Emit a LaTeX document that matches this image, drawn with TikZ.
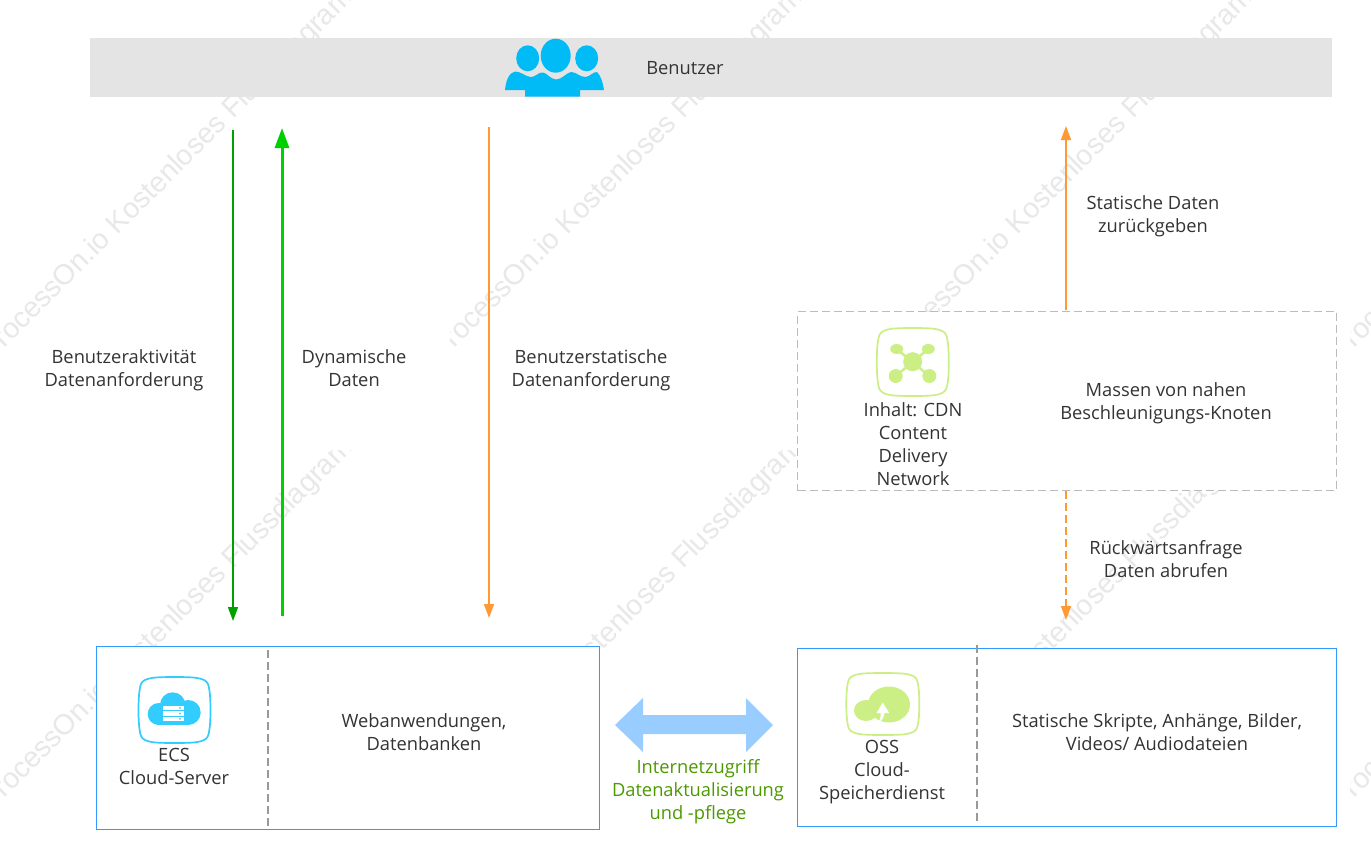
\documentclass[tikz,border=0pt]{standalone}
\usepackage{fontspec}
\setmainfont{Open Sans}
\newfontfamily\wmfont{Liberation Sans}
\usetikzlibrary{arrows.meta}
\definecolor{txt}{HTML}{333333}
\definecolor{barfill}{HTML}{E4E4E4}
\definecolor{userblue}{HTML}{00BBF5}
\definecolor{boxblue}{HTML}{3399FF}
\definecolor{dashgray}{HTML}{BBBBBB}
\definecolor{divgray}{HTML}{999999}
\definecolor{thingreen}{HTML}{00A000}
\definecolor{thickgreen}{HTML}{00D000}
\definecolor{arroworange}{HTML}{FF9933}
\definecolor{lime}{HTML}{CBEF84}
\definecolor{cyanicon}{HTML}{33CCFF}
\definecolor{bigarrow}{HTML}{99CCFF}
\definecolor{labelgreen}{HTML}{4C9900}
\definecolor{wmgray}{HTML}{E8E8E8}
\newcommand{\squirclepath}{(0,-1) .. controls (0.35,-1) and (0.6,-0.99) .. (0.72,-0.95) .. controls (0.88,-0.9) and (0.92,-0.84) .. (0.95,-0.72) .. controls (0.985,-0.55) and (1,-0.3) .. (1,0) .. controls (1,0.3) and (0.985,0.55) .. (0.95,0.72) .. controls (0.92,0.84) and (0.88,0.9) .. (0.72,0.95) .. controls (0.6,0.99) and (0.35,1) .. (0,1) .. controls (-0.35,1) and (-0.6,0.99) .. (-0.72,0.95) .. controls (-0.88,0.9) and (-0.92,0.84) .. (-0.95,0.72) .. controls (-0.985,0.55) and (-1,0.3) .. (-1,0) .. controls (-1,-0.3) and (-0.985,-0.55) .. (-0.95,-0.72) .. controls (-0.92,-0.84) and (-0.88,-0.9) .. (-0.72,-0.95) .. controls (-0.6,-0.99) and (-0.35,-1) .. (0,-1) -- cycle}
\tikzset{
  x=1pt,y=-1pt,
  lbl/.style={align=center,text=txt,font=\fontsize{18.3}{23}\selectfont,inner sep=0pt,outer sep=0pt},
  greenlbl/.style={lbl,text=labelgreen},
  wmark/.style={rotate=45,anchor=base west,text=wmgray,inner sep=0pt,font=\wmfont\fontsize{28.5}{28.5}\selectfont},
  panel/.style={draw=boxblue,fill=white,line width=1pt,anchor=north west,inner sep=0pt,outer sep=0pt},
  dashpanel/.style={draw=dashgray,fill=white,line width=1pt,dash pattern=on 8pt off 4pt,anchor=north west,inner sep=0pt,outer sep=0pt},
  topbar/.style={fill=barfill,anchor=north west,inner sep=0pt,outer sep=0pt},
  divider/.style={draw=divgray,line width=1.3pt,dash pattern=on 8pt off 4pt},
  thinhead/.style={-{Triangle[length=14pt,width=10pt]}},
  thinlink/.style={thinhead,line width=1.5pt},
  thicklink/.style={-{Triangle[length=20pt,width=14pt]},line width=3pt,draw=thickgreen},
}
\begin{document}
\begin{tikzpicture}
\useasboundingbox (0,0) rectangle (1371,865);
\fill[white] (0,0) rectangle (1371,865);
% watermark tiles
\foreach \tx/\ty [count=\i] in {0/0,450/0,900/0,1350/0,0/450,450/450,900/450,1350/450}{
  \begin{scope}
    \clip (\tx,\ty) rectangle ++(350,350);
    \node[wmark] (wm\i) at (\tx-9,\ty+362) {ProcessOn.io Kostenloses Flussdiagramm};
  \end{scope}
}
% top bar
\node[topbar,minimum width=1242pt,minimum height=59pt] (bar) at (90,38) {};
\fill[userblue] (527.7,58.3) ellipse [x radius=11.5,y radius=13];
\fill[userblue] (555.7,55.7) ellipse [x radius=15,y radius=17];
\fill[userblue] (586.7,58.3) ellipse [x radius=11.5,y radius=13];
\fill[userblue] (505,90) .. controls (506,80) and (509,73) .. (515,71.5) .. controls (520,71) and (526,77) .. (531,77) .. controls (536,77) and (538,72) .. (543,72.5) .. controls (547,73) and (550,79) .. (556,79.5) .. controls (562,79.5) and (566,73) .. (571,72) .. controls (576,72) and (580,77) .. (585,77) .. controls (590,77) and (593,71.5) .. (597,72) .. controls (601,76) and (603,83) .. (604,90) -- (580,90) -- (580,96.5) -- (525,96.5) -- (525,90) -- cycle;
\node[lbl] (benutzer) at (685,68) {Benutzer};
% panels
\node[dashpanel,minimum width=538.5pt,minimum height=179pt] (cdn) at (797.5,311.5) {};
\node[panel,minimum width=503pt,minimum height=183pt] (ecs) at (96.5,646.5) {};
\node[panel,minimum width=538.5pt,minimum height=178pt] (oss) at (797.5,648.5) {};
% dividers
\coordinate (d1a) at (268,650); \coordinate (d1b) at (268,826);
\coordinate (d2a) at (977,645); \coordinate (d2b) at (977,821);
\draw[divider] (d1a) -- (d1b);
\draw[divider] (d2a) -- (d2b);
% CDN icon
\begin{scope}[shift={(912.8,362)},xscale=36,yscale=34]
  \draw[lime,line width=1.7pt] \squirclepath;
\end{scope}
\draw[lime,line width=2.5pt] (896.7,349) -- (929.3,376) (928.3,349) -- (895.7,376);
\fill[lime] (912.7,361.7) circle (9.5);
\fill[lime] (896.7,349) ellipse [x radius=6.5,y radius=5];
\fill[lime] (928.3,349) ellipse [x radius=6.5,y radius=5];
\fill[lime] (895.7,376) circle (7);
\fill[lime] (929.3,376) circle (7);
% ECS icon
\begin{scope}[shift={(174.5,710)},xscale=36,yscale=33]
  \draw[cyanicon,line width=1.7pt] \squirclepath;
\end{scope}
\fill[cyanicon] (158.7,714) circle (11);
\fill[cyanicon] (172.7,705) circle (12.7);
\fill[cyanicon] (188.2,712.5) circle (12.5);
\fill[cyanicon] (158.7,714) rectangle (188.2,725);
\foreach \yy in {705.7,711.4,716.8}{
  \fill[white] (163,\yy) rectangle (184.3,\yy+4.2);
  \fill[cyanicon] (180,\yy+2.1) circle (1);
}
% OSS icon
\begin{scope}[shift={(882.8,704)},xscale=36.5,yscale=31]
  \draw[lime,line width=1.7pt] \squirclepath;
\end{scope}
\fill[lime] (889,704.5) ellipse [x radius=21,y radius=18];
\fill[lime] (866,710.5) ellipse [x radius=12,y radius=10.5];
\fill[white] (882.7,702.5) -- (889.2,713) -- (884.5,713) .. controls (884,717) and (882,721) .. (878.5,722.5) .. controls (880,719) and (881,716) .. (881,713) -- (876.5,713) -- cycle;
% labels
\node[lbl] (l1) at (124,370) {Benutzeraktivität\\Datenanforderung};
\node[lbl] (l2) at (354,368) {Dynamische\\Daten};
\node[lbl] (l3) at (591,370) {Benutzerstatische\\Datenanforderung};
\node[lbl] (l4) at (1153,216) {Statische Daten\\zurückgeben};
\node[lbl] (l5) at (1166,403) {Massen von nahen\\Beschleunigungs-Knoten};
\node[lbl] (l6) at (913,444) {Inhalt: CDN\\Content\\Delivery\\Network};
\node[lbl] (l7) at (1166,559) {Rückwärtsanfrage\\Daten abrufen};
\node[lbl] (l8) at (174,766.5) {ECS\\Cloud-Server};
\node[lbl] (l9) at (424,732.5) {Webanwendungen,\\Datenbanken};
\node[greenlbl] (l10) at (698,792) {Internetzugriff\\Datenaktualisierung\\und -pflege};
\node[lbl] (l11) at (882,772.5) {OSS\\Cloud-\\Speicherdienst};
\node[lbl] (l12) at (1157,732.5) {Statische Skripte, Anhänge, Bilder,\\Videos/ Audiodateien};
% connectors
\coordinate (a1s) at (233,130); \coordinate (a1e) at (233,621);
\coordinate (a2s) at (282,616); \coordinate (a2e) at (282,128);
\coordinate (a3s) at (489,127); \coordinate (a3e) at (489,618);
\coordinate (a4s) at (1066,310); \coordinate (a4e) at (1066,126);
\coordinate (a5s) at (1066,491); \coordinate (a5e) at (1066,620);
\draw[thinlink,draw=thingreen,-{Triangle[length=14pt,width=10pt,fill=thingreen]}] (a1s) -- (a1e);
\draw[thicklink,-{Triangle[length=20pt,width=14pt,fill=thickgreen]}] (a2s) -- (a2e);
\draw[thinlink,draw=arroworange] (a3s) -- (a3e);
\draw[thinlink,draw=arroworange] (a4s) -- (a4e);
\draw[thinlink,draw=arroworange,dash pattern=on 8pt off 4pt] (a5s) -- (a5e);
% double arrow
\fill[bigarrow] (615,725) -- (643,698) -- (643,715) -- (746,715) -- (746,698) -- (773,725) -- (746,752) -- (746,734) -- (643,734) -- (643,752) -- cycle;
\end{tikzpicture}
\end{document}
